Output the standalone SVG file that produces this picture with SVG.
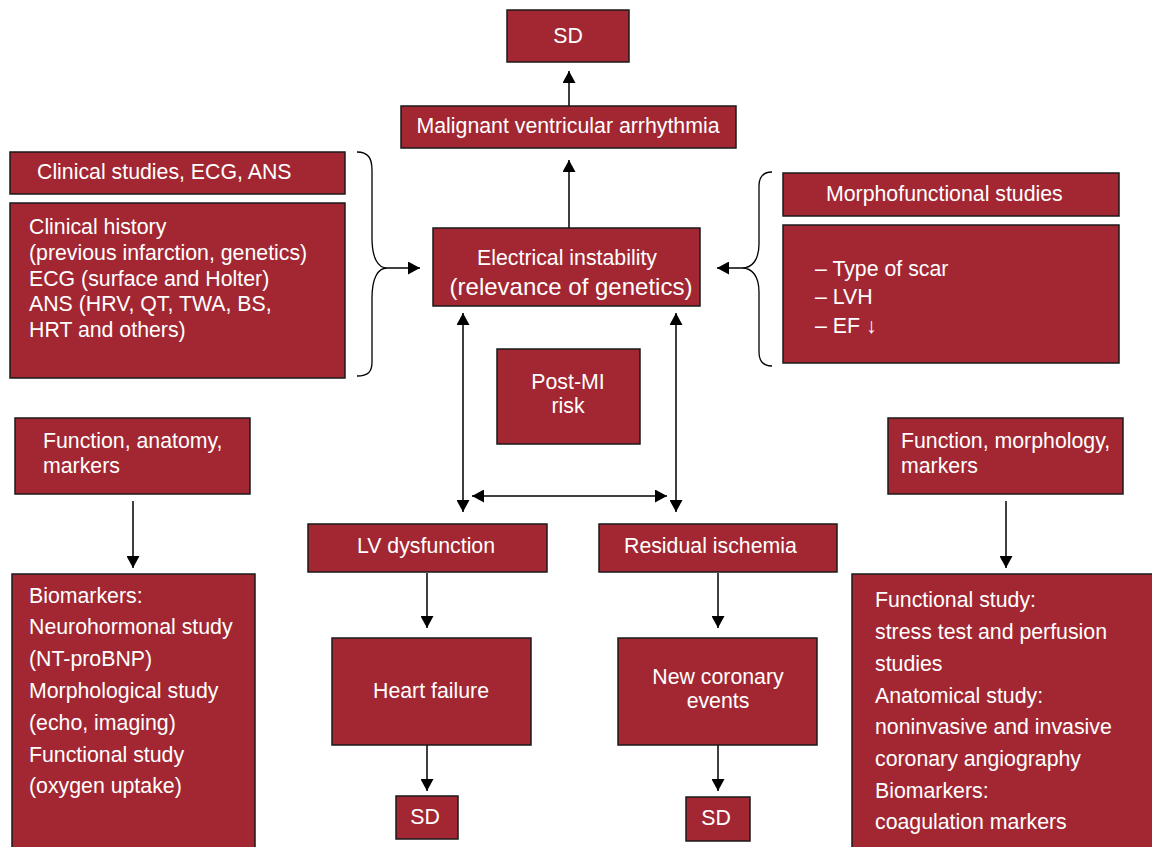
<svg xmlns="http://www.w3.org/2000/svg" width="1152" height="847" viewBox="0 0 1152 847">
<style>
.box{fill:#a22733;stroke:#1a1a1a;stroke-width:1.5}
.t{font-family:"Liberation Sans",Arial,sans-serif;font-size:21.3px;fill:#ffffff}
.m{text-anchor:middle}
.ln{stroke:#000;stroke-width:1.5;fill:none}
.br{stroke:#000;stroke-width:1.3;fill:none}
</style>
<defs>
<marker id="ah" markerUnits="userSpaceOnUse" markerWidth="12" markerHeight="13" refX="12" refY="6.5" orient="auto-start-reverse">
<path d="M0,0 L12,6.5 L0,13 z" fill="#000"/>
</marker>
</defs>
<rect width="1152" height="847" fill="#fff"/>

<g id="connectors">
<line class="ln" x1="569" y1="106" x2="569" y2="71" marker-end="url(#ah)"/>
<line class="ln" x1="569" y1="228" x2="569" y2="160" marker-end="url(#ah)"/>
<path class="br" d="M357,152 C368,152 372,158 372,170 L372,238 C372,258 378,268 387,268 C378,268 372,278 372,298 L372,362 C372,372 368,376 357,376"/>
<line class="ln" x1="387" y1="268" x2="420" y2="268" marker-end="url(#ah)"/>
<path class="br" d="M772,172 C764,172 759,176 759,186 L759,244 C759,260 752,268 742,268 C752,268 759,276 759,292 L759,352 C759,362 764,366 772,366"/>
<line class="ln" x1="742" y1="268" x2="717" y2="268" marker-end="url(#ah)"/>
<line class="ln" x1="463" y1="313" x2="463" y2="512" marker-start="url(#ah)" marker-end="url(#ah)"/>
<line class="ln" x1="676" y1="313" x2="676" y2="512" marker-start="url(#ah)" marker-end="url(#ah)"/>
<line class="ln" x1="472" y1="496" x2="667" y2="496" marker-start="url(#ah)" marker-end="url(#ah)"/>
<line class="ln" x1="427" y1="573" x2="427" y2="628" marker-end="url(#ah)"/>
<line class="ln" x1="427" y1="745" x2="427" y2="791" marker-end="url(#ah)"/>
<line class="ln" x1="718" y1="573" x2="718" y2="628" marker-end="url(#ah)"/>
<line class="ln" x1="718" y1="745" x2="718" y2="791" marker-end="url(#ah)"/>
<line class="ln" x1="133" y1="501" x2="133" y2="568" marker-end="url(#ah)"/>
<line class="ln" x1="1006" y1="501" x2="1006" y2="568" marker-end="url(#ah)"/>
</g>

<g id="sd-top"><rect class="box" x="507" y="10" width="122" height="52"/><text class="t m" x="568" y="43">SD</text></g>
<g id="malignant"><rect class="box" x="401" y="106" width="335" height="42"/><text class="t m" x="568" y="133">Malignant ventricular arrhythmia</text></g>
<g id="clinical-studies"><rect class="box" x="10" y="152" width="335" height="42"/><text class="t" x="37" y="179">Clinical studies, ECG, ANS</text></g>
<g id="clinical-history"><rect class="box" x="10" y="203" width="335" height="175"/>
<text class="t" x="29" y="234">Clinical history</text>
<text class="t" x="29" y="260">(previous infarction, genetics)</text>
<text class="t" x="29" y="286">ECG (surface and Holter)</text>
<text class="t" x="29" y="311">ANS (HRV, QT, TWA, BS,</text>
<text class="t" x="29" y="337">HRT and others)</text></g>
<g id="electrical"><rect class="box" x="433" y="228" width="267" height="78"/>
<text class="t m" x="567" y="265">Electrical instability</text>
<text class="t m" x="571" y="295" style="font-size:24px">(relevance of genetics)</text></g>
<g id="morphofunctional"><rect class="box" x="783" y="173" width="336" height="43"/><text class="t" x="826" y="201">Morphofunctional studies</text></g>
<g id="scar"><rect class="box" x="783" y="225" width="336" height="138"/>
<text class="t" x="815" y="276">– Type of scar</text>
<text class="t" x="815" y="304">– LVH</text>
<text class="t" x="815" y="333">– EF ↓</text></g>
<g id="post-mi"><rect class="box" x="497" y="349" width="143" height="95"/>
<text class="t m" x="568" y="389">Post-MI</text>
<text class="t m" x="568" y="413">risk</text></g>
<g id="function-anatomy"><rect class="box" x="15" y="418" width="235" height="76"/>
<text class="t" x="43" y="448">Function, anatomy,</text>
<text class="t" x="43" y="473">markers</text></g>
<g id="function-morphology"><rect class="box" x="888" y="418" width="235" height="76"/>
<text class="t" x="901" y="448">Function, morphology,</text>
<text class="t" x="901" y="473">markers</text></g>
<g id="lv-dysfunction"><rect class="box" x="308" y="524" width="239" height="48"/><text class="t m" x="426" y="553">LV dysfunction</text></g>
<g id="residual-ischemia"><rect class="box" x="599" y="524" width="238" height="48"/><text class="t" x="624" y="553">Residual ischemia</text></g>
<g id="heart-failure"><rect class="box" x="332" y="638" width="199" height="107"/><text class="t m" x="431" y="698">Heart failure</text></g>
<g id="new-coronary"><rect class="box" x="618" y="638" width="199" height="107"/>
<text class="t m" x="718" y="684">New coronary</text>
<text class="t m" x="718" y="708">events</text></g>
<g id="sd-left"><rect class="box" x="396" y="796" width="62" height="43"/><text class="t m" x="425" y="824">SD</text></g>
<g id="sd-right"><rect class="box" x="686" y="797" width="64" height="44"/><text class="t m" x="716" y="825">SD</text></g>
<g id="biomarkers"><rect class="box" x="12" y="574" width="243" height="290"/>
<text class="t" x="29" y="603">Biomarkers:</text>
<text class="t" x="29" y="634">Neurohormonal study</text>
<text class="t" x="29" y="666">(NT-proBNP)</text>
<text class="t" x="29" y="698">Morphological study</text>
<text class="t" x="29" y="730">(echo, imaging)</text>
<text class="t" x="29" y="762">Functional study</text>
<text class="t" x="29" y="793">(oxygen uptake)</text></g>
<g id="functional-study"><rect class="box" x="852" y="574" width="310" height="290"/>
<text class="t" x="875" y="607">Functional study:</text>
<text class="t" x="875" y="639">stress test and perfusion</text>
<text class="t" x="875" y="671">studies</text>
<text class="t" x="875" y="703">Anatomical study:</text>
<text class="t" x="875" y="734">noninvasive and invasive</text>
<text class="t" x="875" y="766">coronary angiography</text>
<text class="t" x="875" y="798">Biomarkers:</text>
<text class="t" x="875" y="829">coagulation markers</text></g>
</svg>
